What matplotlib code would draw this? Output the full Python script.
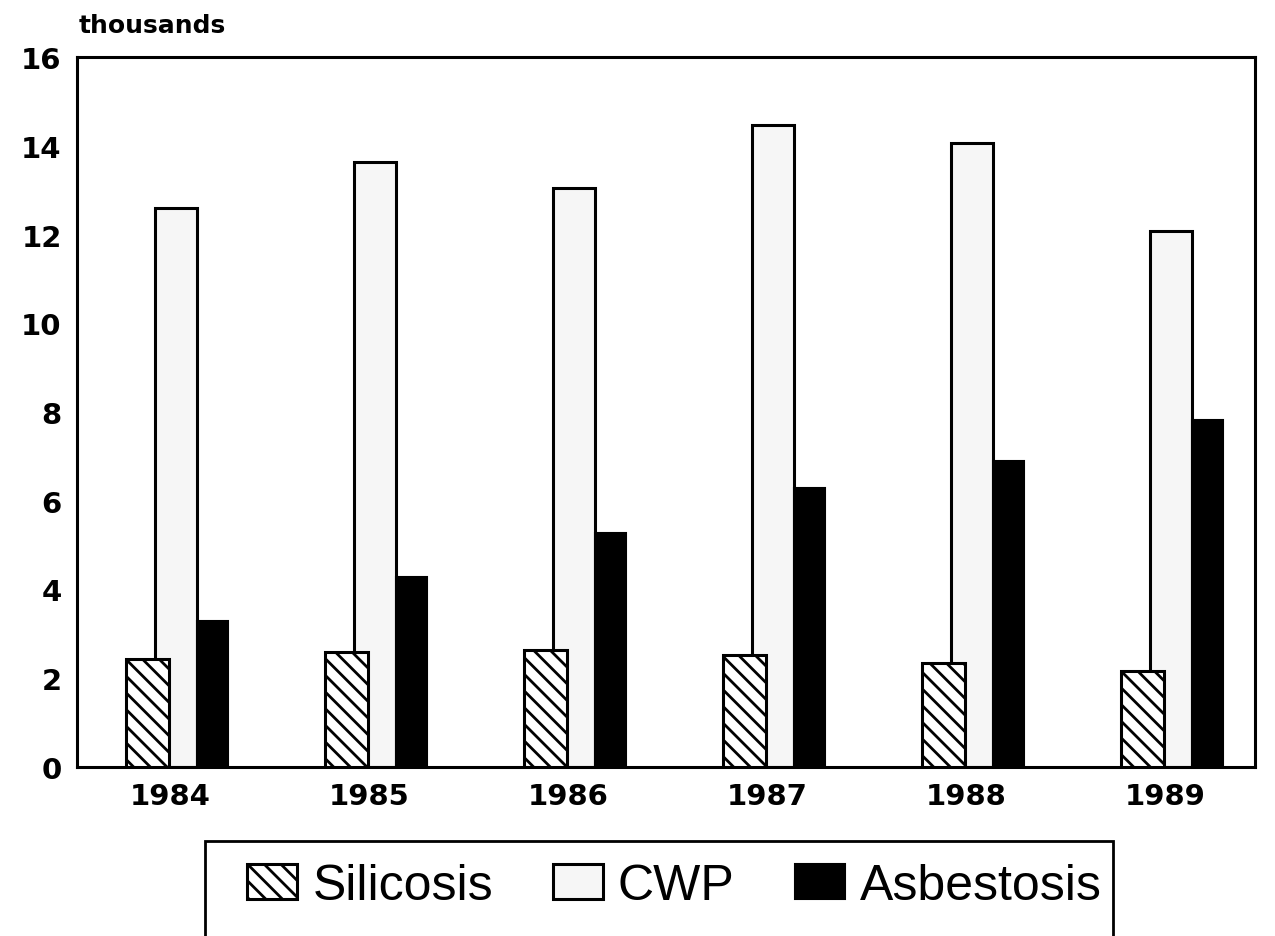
import matplotlib
matplotlib.use("Agg")
import matplotlib.pyplot as plt
import numpy as np
from matplotlib.patches import Rectangle

years = ["1984", "1985", "1986", "1987", "1988", "1989"]
silicosis = [2.44, 2.60, 2.64, 2.53, 2.35, 2.17]
cwp = [12.60, 13.63, 13.06, 14.46, 14.06, 12.09]
asbestosis = [3.28, 4.29, 5.27, 6.28, 6.89, 7.82]

plt.rcParams['hatch.linewidth'] = 2.0

fig = plt.figure(figsize=(12.75, 9.37), dpi=100)
ax = fig.add_axes([0.0604, 0.1804, 0.9236, 0.7576])

x = np.arange(len(years))
b2 = ax.bar(x + 0.03, cwp, width=0.21, color='#f6f6f6', edgecolor='black', linewidth=2.2, zorder=2, label='CWP')
b1 = ax.bar(x - 0.113, silicosis, width=0.216, color='white', edgecolor='black', linewidth=2.2,
            hatch='\\\\', zorder=3, label='Silicosis')
b3 = ax.bar(x + 0.214, asbestosis, width=0.156, color='black', edgecolor='black', linewidth=1.5,
            zorder=2, label='Asbestosis')

ax.set_xlim(-0.467, 5.45)
ax.set_ylim(0, 16)
ax.set_yticks(range(0, 17, 2))
ax.set_xticks(x)
ax.set_xticklabels(years)
ax.tick_params(axis='y', length=0, pad=11)
ax.tick_params(axis='x', length=0, pad=11)
for lab in ax.get_yticklabels() + ax.get_xticklabels():
    lab.set_fontweight('bold')
    lab.set_fontsize(21)
    lab.set_family('DejaVu Sans')
for s in ax.spines.values():
    s.set_linewidth(2.2)

fig.text(0.062, 0.972, "thousands", fontsize=18, fontweight='bold', ha='left', va='center')

fig.add_artist(Rectangle((0.161, -0.05), 0.712, 0.1514, transform=fig.transFigure,
                         fill=False, edgecolor='black', linewidth=2.0))
fig.legend(handles=[b1, b2, b3], labels=['Silicosis', 'CWP', 'Asbestosis'],
           loc='center', bbox_to_anchor=(0.529, 0.053), ncol=3, frameon=False,
           prop={'family': 'Liberation Sans', 'size': 36},
           handlelength=1.0, handleheight=0.7, handletextpad=0.3, columnspacing=1.2)

fig.savefig("out.png", dpi=100)
